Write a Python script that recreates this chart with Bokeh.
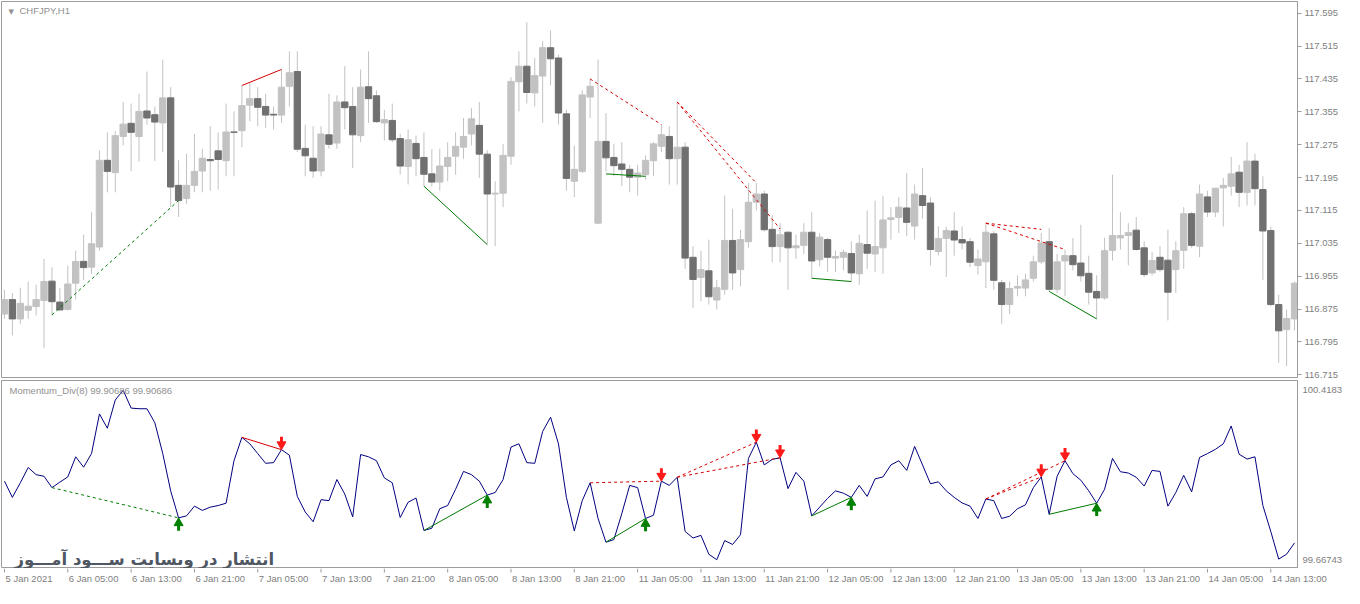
from bokeh.plotting import figure
from bokeh.layouts import column
from bokeh.models import Range1d, FixedTicker, ColumnDataSource, PrintfTickFormatter
from bokeh.core.properties import value
from bokeh.embed import file_html
from bokeh.resources import INLINE

# ---------------- data (CHFJPY, H1) ----------------
opens = [116.863,116.898,116.851,116.872,116.881,116.896,116.943,116.892,116.874,116.938,
         116.991,116.977,117.026,117.237,117.207,117.295,117.327,117.295,117.357,117.348,
         117.328,117.389,117.176,117.144,117.176,117.211,117.239,117.260,117.236,117.306,
         117.309,117.371,117.387,117.368,117.349,117.347,117.417,117.453,117.266,117.242,
         117.211,117.299,117.279,117.379,117.368,117.297,117.416,117.394,117.328,117.334,
         117.290,117.222,117.278,117.244,117.204,117.184,117.222,117.247,117.269,117.301,
         117.322,117.252,117.155,117.157,117.247,117.428,117.466,117.401,117.442,117.511,
         117.486,117.350,117.186,117.210,117.391,117.084,117.283,117.244,117.228,117.215,
         117.196,117.202,117.236,117.271,117.295,117.241,117.269,117.001,116.952,116.968,
         116.897,116.923,117.042,116.971,117.039,117.135,117.155,117.069,117.027,117.062,
         117.024,117.030,117.062,116.995,117.044,116.999,117.001,117.010,116.961,117.032,
         117.009,117.024,117.093,117.098,117.121,117.077,117.151,117.133,117.015,117.047,
         117.065,117.044,117.039,116.981,116.990,117.058,116.939,116.886,116.926,116.926,
         116.950,116.990,117.039,116.923,116.992,117.005,116.987,116.962,116.918,116.902,
         117.018,117.048,117.054,117.067,117.024,116.963,117.001,116.994,116.971,117.018,
         117.107,117.028,117.148,117.111,117.170,117.174,117.208,117.159,117.235,117.166,
         117.066,116.886,116.825,116.851]
highs = [116.922,116.914,116.927,116.942,116.934,116.997,116.977,116.926,116.981,117.017,
         117.056,117.111,117.261,117.305,117.308,117.379,117.375,117.399,117.453,117.368,
         117.482,117.415,117.237,117.253,117.301,117.265,117.320,117.305,117.375,117.356,
         117.419,117.427,117.415,117.399,117.368,117.458,117.502,117.502,117.324,117.320,
         117.320,117.399,117.395,117.466,117.415,117.458,117.502,117.407,117.360,117.375,
         117.301,117.312,117.297,117.305,117.264,117.265,117.281,117.305,117.340,117.364,
         117.379,117.261,117.186,117.277,117.439,117.502,117.573,117.486,117.527,117.553,
         117.494,117.360,117.273,117.407,117.435,117.482,117.352,117.277,117.281,117.226,
         117.226,117.249,117.281,117.324,117.320,117.379,117.281,117.028,117.017,117.044,
         116.946,117.151,117.119,117.068,117.182,117.182,117.163,117.103,117.084,117.064,
         117.056,117.084,117.111,117.060,117.048,117.017,117.020,117.040,117.056,117.115,
         117.139,117.151,117.123,117.147,117.206,117.178,117.218,117.147,117.076,117.076,
         117.111,117.076,117.048,117.020,117.084,117.064,116.946,116.942,116.957,116.961,
         117.005,117.060,117.072,117.009,117.020,117.048,117.080,117.005,116.957,117.048,
         117.202,117.111,117.084,117.099,117.040,117.013,117.028,117.068,117.040,117.123,
         117.111,117.178,117.163,117.170,117.194,117.245,117.226,117.281,117.253,117.198,
         117.076,116.910,116.874,116.942]
lows = [116.851,116.811,116.839,116.851,116.859,116.780,116.859,116.871,116.872,116.898,
        116.946,116.961,117.017,117.159,117.159,117.273,117.210,117.234,117.324,117.235,
        117.257,117.123,117.099,117.131,117.159,117.159,117.163,117.166,117.198,117.198,
        117.269,117.332,117.320,117.316,117.312,117.328,117.368,117.257,117.198,117.194,
        117.198,117.265,117.265,117.312,117.218,117.281,117.328,117.328,117.285,117.281,
        117.202,117.178,117.198,117.174,117.174,117.163,117.186,117.202,117.241,117.273,
        117.194,117.032,117.028,117.123,117.226,117.356,117.375,117.368,117.328,117.419,
        117.324,117.163,117.147,117.206,117.340,117.082,117.210,117.198,117.174,117.159,
        117.151,117.190,117.198,117.257,117.178,117.178,116.973,116.878,116.894,116.886,
        116.874,116.910,116.922,116.930,117.024,117.115,117.064,116.989,116.989,116.922,
        116.997,117.009,116.950,116.979,116.965,116.965,116.969,116.942,116.934,116.973,
        116.965,116.961,117.044,117.060,117.052,117.044,117.095,116.981,117.005,116.953,
        117.005,117.020,116.977,116.959,116.926,116.922,116.839,116.863,116.906,116.906,
        116.942,116.985,116.918,116.914,116.906,116.969,116.942,116.886,116.851,116.898,
        116.993,117.020,116.981,117.017,116.953,116.957,116.965,116.847,116.914,116.973,
        117.024,117.001,117.099,117.099,117.076,117.151,117.123,117.127,117.127,116.946,
        116.882,116.744,116.736,116.823]
closes = [116.898,116.851,116.889,116.882,116.898,116.942,116.893,116.873,116.936,116.991,
          116.976,117.034,117.237,117.210,117.297,117.325,117.305,117.356,117.340,117.330,
          117.389,117.172,117.139,117.176,117.210,117.242,117.236,117.239,117.306,117.305,
          117.370,117.387,117.366,117.347,117.347,117.415,117.450,117.264,117.248,117.211,
          117.301,117.276,117.379,117.365,117.299,117.415,117.387,117.331,117.336,117.287,
          117.223,117.287,117.241,117.203,117.184,117.223,117.244,117.271,117.295,117.338,
          117.252,117.155,117.157,117.249,117.429,117.466,117.402,117.443,117.511,117.484,
          117.352,117.193,117.215,117.396,117.417,117.283,117.243,117.224,117.215,117.196,
          117.206,117.237,117.277,117.299,117.241,117.269,116.999,116.947,116.971,116.905,
          116.927,117.042,116.963,117.044,117.135,117.155,117.068,117.027,117.056,117.024,
          117.029,117.062,116.992,117.050,117.001,117.003,117.013,116.963,117.035,117.011,
          117.027,117.092,117.097,117.123,117.086,117.155,117.127,117.020,117.047,117.066,
          117.043,117.036,116.989,116.997,117.062,116.945,116.886,116.925,116.930,116.946,
          116.990,117.036,116.923,116.990,117.005,116.983,116.956,116.916,116.902,117.017,
          117.054,117.054,117.061,117.020,116.959,116.993,116.971,116.916,117.017,117.107,
          117.030,117.155,117.111,117.169,117.176,117.204,117.159,117.235,117.168,117.065,
          116.886,116.822,116.852,116.938]

momentum = [100.0155,99.9436,100.0083,100.0759,100.0443,100.0371,99.9868,100.0112,100.0342,100.1234,
            100.0774,100.1378,100.3133,100.2500,100.3751,100.4183,100.3392,100.3363,100.3363,100.2744,
            100.1378,99.9724,99.8530,99.8616,99.9048,99.8861,99.9004,99.9076,99.9177,100.1061,
            100.2097,100.1809,100.1378,100.0946,100.0975,100.1550,100.1306,99.9479,99.8789,99.8357,
            99.9335,99.9292,100.0227,99.9580,99.8573,100.1335,100.1234,100.1061,100.0299,100.0083,
            99.8544,99.9220,99.9407,99.7969,99.8070,99.8933,99.9076,99.9796,100.0587,100.0443,
            100.0155,99.9537,99.9652,100.0227,100.1666,100.1809,100.0975,100.0946,100.2356,100.2989,
            100.1809,99.9436,99.7954,99.9292,100.0083,99.8501,99.7451,99.7566,99.8717,99.9968,
            99.9868,99.8501,99.8645,100.0155,99.9968,100.0328,99.7926,99.7638,99.7753,99.6919,
            99.6674,99.7523,99.7350,99.7782,100.1162,100.1881,100.0874,100.1119,100.1191,99.9824,
            100.0544,100.0155,99.8616,99.9004,99.9393,99.9724,99.9623,99.9436,99.9968,99.9479,
            100.0256,100.0342,100.0874,100.1061,100.0630,100.1694,100.0874,100.0040,100.0126,99.9724,
            99.9436,99.9191,99.9048,99.8501,99.9364,99.9292,99.8501,99.8602,99.8933,99.9105,
            99.9868,100.0342,99.8688,100.0371,100.1061,100.0486,100.0198,99.9724,99.9177,99.9796,
            100.1162,100.0572,100.0515,100.0328,99.9939,100.0630,100.0587,99.9048,99.9652,100.0414,
            99.9681,100.1205,100.1378,100.1565,100.1809,100.2600,100.1349,100.1133,100.1234,99.9076,
            99.7926,99.6703,99.6919,99.7422]

# divergence lines: bar index pairs, prices on the chart, kind
div_x0 = [6, 30, 53, 74, 85, 85, 76, 102, 124, 124, 132]
div_x1 = [22, 35, 61, 83, 95, 98, 81, 107, 131, 134, 138]
div_p0 = [116.861, 117.419, 117.174, 117.435, 117.379, 117.379, 117.204, 116.950, 117.084, 117.084, 116.918]
div_p1 = [117.139, 117.458, 117.032, 117.324, 117.182, 117.070, 117.198, 116.942, 117.069, 117.020, 116.851]
div_kind = ["bull", "bear", "bull", "bear", "bear", "bear", "bull", "bull", "bear", "bear", "bull"]
div_dashed = [True, False, False, True, True, True, False, False, True, True, False]

price_ticks = [117.595, 117.515, 117.435, 117.355, 117.275, 117.195, 117.115,
               117.035, 116.955, 116.875, 116.795, 116.715]
mom_ticks = [99.66743, 100.4183]
mom_tick_labels = ["99.66743", "100.4183"]

date_tick_idx = [0, 8, 16, 24, 32, 40, 48, 56, 64, 72, 80, 88, 96, 104, 112, 120, 128, 136, 144, 152, 160]
date_tick_labels = ["5 Jan 2021", "6 Jan 05:00", "6 Jan 13:00", "6 Jan 21:00", "7 Jan 05:00",
                    "7 Jan 13:00", "7 Jan 21:00", "8 Jan 05:00", "8 Jan 13:00", "8 Jan 21:00",
                    "11 Jan 05:00", "11 Jan 13:00", "11 Jan 21:00", "12 Jan 05:00", "12 Jan 13:00",
                    "12 Jan 21:00", "13 Jan 05:00", "13 Jan 13:00", "13 Jan 21:00", "14 Jan 05:00",
                    "14 Jan 13:00"]

symbol_title = "CHFJPY,H1"
ind_title = "Momentum_Div(8) 99.90686 99.90686"
watermark = "انتشار در وبسایت ســـود آمـــوز"

# ---------------- style ----------------
BULL = "#c2c2c2"
BEAR = "#707070"
WICK = "#c2c2c2"
FRAME = "#9c9c9c"
LABEL = "#808080"
RED = "#d40000"
GREEN = "#007a00"
FONT = value("Liberation Sans")
FS = "9.5px"

X0, X1 = -0.375, 163.375
FW = 1296
PY0, PY1 = 116.7085, 117.6234
MY0, MY1 = 99.6286, 100.4614
FH1, FH2 = 376, 188

n = len(opens)
idx = list(range(n))


def base_fig(fh, yr, xr, top, bottom, right=47, fw=FW, yloc="right"):
    p = figure(frame_width=fw, frame_height=fh, x_range=xr, y_range=yr,
               output_backend="svg", toolbar_location=None,
               x_axis_location=None, y_axis_location=yloc,
               min_border_left=1, min_border_right=right,
               min_border_top=top, min_border_bottom=bottom)
    p.grid.visible = False
    p.background_fill_color = "white"
    p.border_fill_color = "white"
    p.outline_line_color = FRAME
    p.outline_line_width = 1
    return p


xr = Range1d(X0, X1)

# ---------------- price panel ----------------
p1 = base_fig(FH1, Range1d(PY0, PY1), xr, 1, 3)
body_top = [max(o, c) for o, c in zip(opens, closes)]
body_bot = [min(o, c) for o, c in zip(opens, closes)]
colors = [BULL if c >= o else BEAR for o, c in zip(opens, closes)]
src = ColumnDataSource(dict(x=idx, h=highs, l=lows, t=body_top, b=body_bot, c=colors))
p1.segment(x0="x", y0="h", x1="x", y1="l", source=src, line_color=WICK, line_width=1)
p1.vbar(x="x", width=0.8, top="t", bottom="b", source=src, fill_color="c", line_color="c", line_width=1)

for dashed in (False, True):
    sel = [k for k in range(len(div_x0)) if div_dashed[k] == dashed]
    d = ColumnDataSource(dict(
        x0=[div_x0[k] for k in sel], x1=[div_x1[k] for k in sel],
        y0=[div_p0[k] for k in sel], y1=[div_p1[k] for k in sel],
        c=[RED if div_kind[k] == "bear" else GREEN for k in sel]))
    p1.segment(x0="x0", y0="y0", x1="x1", y1="y1", source=d, line_color="c",
               line_width=1, line_dash="3 3" if dashed else "solid")

ax = p1.yaxis[0]
ax.ticker = FixedTicker(ticks=price_ticks)
ax.formatter = PrintfTickFormatter(format="%.3f")
ax.axis_line_color = FRAME
ax.major_tick_line_color = FRAME
ax.major_tick_out = 4
ax.major_tick_in = 0
ax.minor_tick_line_color = None
ax.major_label_standoff = 3
ax.major_label_text_color = LABEL
ax.major_label_text_font = "Liberation Sans"
ax.major_label_text_font_size = FS

p1.text(x=[X0], y=[PY1], text=["▼"], x_offset=7, y_offset=6, text_baseline="top",
        text_font=value("DejaVu Sans"), text_font_size="7px", text_color="#909090")
p1.text(x=[X0], y=[PY1], text=[symbol_title], x_offset=18, y_offset=3, text_baseline="top",
        text_font=FONT, text_font_size=FS, text_color="#909090")

# ---------------- indicator panel ----------------
p2 = base_fig(FH2, Range1d(MY0, MY1), xr, 0, 0)
p2.line(idx, momentum, line_color="#000080", line_width=1)

for dashed in (False, True):
    sel = [k for k in range(len(div_x0)) if div_dashed[k] == dashed]
    d = ColumnDataSource(dict(
        x0=[div_x0[k] for k in sel], x1=[div_x1[k] for k in sel],
        y0=[momentum[div_x0[k]] for k in sel], y1=[momentum[div_x1[k]] for k in sel],
        c=[RED if div_kind[k] == "bear" else GREEN for k in sel]))
    p2.segment(x0="x0", y0="y0", x1="x1", y1="y1", source=d, line_color="c",
               line_width=1, line_dash="3 3" if dashed else "solid")

# signal arrows (tip on the indicator value); sizes given in screen pixels
PX = (MY1 - MY0) / FH2          # data units per pixel in the indicator panel
HEAD = 9                         # triangle marker size (px)
TIP = HEAD / 2 * 3 ** 0.5 * 2 / 3   # centroid-to-tip distance of the marker
BASE = HEAD / 2 * 3 ** 0.5 / 3      # centroid-to-base distance
SHAFT = 5


def arrows(xs, direction, color):
    vs = [momentum[i] for i in xs]
    s = 1 if direction == "down" else -1
    p2.segment(x0=xs, x1=xs,
               y0=[v + s * (TIP + BASE - 0.5) * PX for v in vs],
               y1=[v + s * (TIP + BASE + SHAFT) * PX for v in vs],
               line_color=color, line_width=3)
    p2.scatter(x=xs, y=[v + s * TIP * PX for v in vs],
               marker="inverted_triangle" if direction == "down" else "triangle",
               size=HEAD, fill_color=color, line_color=color, line_width=1)


bear_x = [div_x1[k] for k in range(len(div_x1)) if div_kind[k] == "bear"]
bull_x = [div_x1[k] for k in range(len(div_x1)) if div_kind[k] == "bull"]
arrows(bear_x, "down", "#ff1a1a")
arrows(bull_x, "up", "#008000")

ax2 = p2.yaxis[0]
ax2.ticker = FixedTicker(ticks=mom_ticks)
ax2.major_label_overrides = {t: s for t, s in zip(mom_ticks, mom_tick_labels)}
ax2.axis_line_color = FRAME
ax2.major_tick_line_color = None
ax2.major_tick_out = 0
ax2.major_tick_in = 0
ax2.minor_tick_line_color = None
ax2.major_label_standoff = 5
ax2.major_label_text_color = LABEL
ax2.major_label_text_font = "Liberation Sans"
ax2.major_label_text_font_size = FS

p2.text(x=[X0], y=[MY1], text=[ind_title], x_offset=8, y_offset=4, text_baseline="top",
        text_font=FONT, text_font_size=FS, text_color="#909090")
p2.text(x=[X0], y=[MY0], text=[watermark], x_offset=13, y_offset=-9, text_baseline="alphabetic",
        text_font=value("DejaVu Sans"), text_font_size="16.5px", text_font_style="bold",
        text_color="#4f5763")

# ---------------- date axis strip ----------------
FW3 = 1343
xr3 = Range1d(X0, X0 + (X1 - X0) * FW3 / FW)
p3 = base_fig(20, Range1d(0, 20), xr3, 0, 0, right=0, fw=FW3, yloc=None)
p3.outline_line_color = None
p3.segment(x0=date_tick_idx, y0=[20] * len(date_tick_idx), x1=date_tick_idx,
           y1=[16] * len(date_tick_idx), line_color=FRAME, line_width=1)
p3.text(x=date_tick_idx, y=[10] * len(date_tick_idx), text=date_tick_labels,
        text_align="left", text_baseline="middle", x_offset=1,
        text_font=FONT, text_font_size=FS, text_color=LABEL)

layout = column(p1, p2, p3, spacing=0)
open("out.html", "w").write(file_html(layout, INLINE))
